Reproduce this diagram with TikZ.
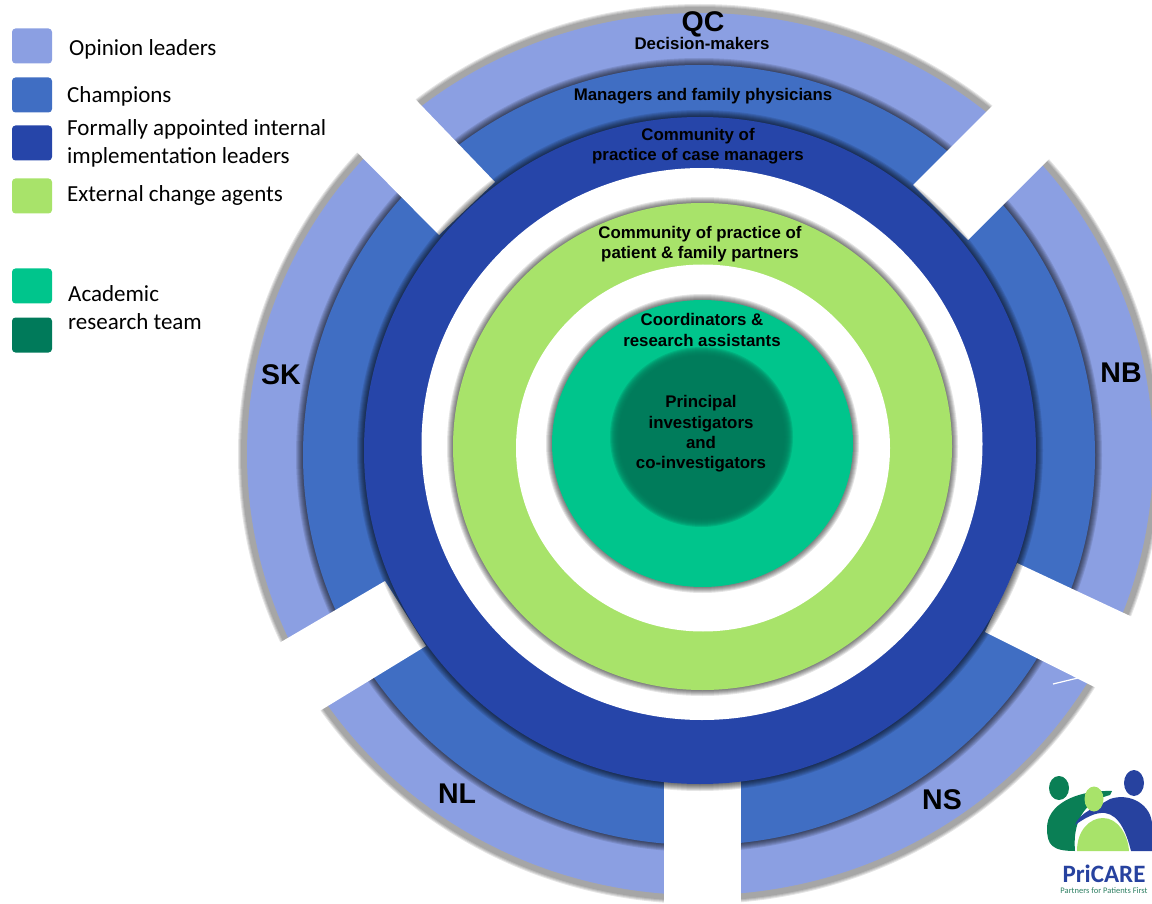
\documentclass[tikz,border=0pt]{standalone}
\usepackage{fontspec}
\setmainfont{Carlito}
\newfontfamily\arialfont{Liberation Sans}
\usepackage{xcolor}
\definecolor{opinion}{HTML}{8B9FE2}
\definecolor{champion}{HTML}{406EC3}
\definecolor{leader}{HTML}{2645A9}
\definecolor{agent}{HTML}{A8E36A}
\definecolor{academic}{HTML}{00C58C}
\definecolor{research}{HTML}{007A5A}
\definecolor{logoblue}{HTML}{27429F}
\definecolor{logogreen}{HTML}{0A7F55}
\tikzstyle{swatch} = [rectangle, rounded corners=3.5pt, minimum width=40pt, minimum height=35pt, inner sep=0pt]
\tikzstyle{legend} = [anchor=west, align=left, inner sep=0pt, font=\fontsize{23}{28}\selectfont]
\tikzstyle{ringtext} = [align=center, inner sep=0pt, font=\arialfont\bfseries\fontsize{16.85}{20.3}\selectfont]
\tikzstyle{region} = [inner sep=0pt, font=\arialfont\bfseries\fontsize{28.5}{30}\selectfont]
\tikzstyle{gap} = [fill=white]
% cx, cy, rx, ry, colour of the disc, widths of the soft rim round it
\newcommand{\softdisc}[6]{
  \foreach \d in {#6} {
    \fill[black, opacity=0.1] (#1,#2) ellipse ({#3+\d} and {#4+\d});
  }
  \fill[#5] (#1,#2) ellipse (#3 and #4);
}

\begin{document}
\begin{tikzpicture}[x=1pt, y=-1pt]
\useasboundingbox (0,0) rectangle (1152,904);
\clip (0,0) rectangle (1152,904);

% rings of the provinces
\softdisc{700}{454}{453}{441}{opinion}{9,8,7,6}
\softdisc{699}{455}{396}{390}{champion}{7,6,5,4,3,2,1}

\fill[gap] (393,76) -- (495,182) -- (439,235) -- (335,130) -- cycle;
\fill[gap] (1010,88) -- (913,185) -- (968,240) -- (1065,143) -- cycle;
\fill[gap] (1017,563) -- (1160,630) -- (1160,720) -- (985,632) -- cycle;
\fill[gap] (385,581) -- (426,646) -- (318,712) -- (270,741) -- (240,666) -- cycle;
\fill[gap] (664,770) rectangle (741,904);
\draw[white, line width=1.2pt] (1053,684) -- (1082,677);

% inner rings
\softdisc{700}{450.5}{336}{333.5}{leader}{7,6,5,4,3,2,1}
\fill[white] (702,444) ellipse (280.5 and 276);
\softdisc{702.5}{446.5}{249.5}{243.5}{agent}{6,5,4,3,2,1}
\fill[white] (703,448) ellipse (187 and 183.5);
\softdisc{702.5}{443.5}{150.5}{143.5}{academic}{6,5,4,3,2,1}
\foreach \d in {3,...,-6} {
  \fill[research, opacity=0.25] (701.5,437) ellipse ({88.5+\d} and {87+\d});
}

% labels on the rings
\node at (703,24.5) (qc) [region] {QC};
\node at (702,43.5) (deciders) [ringtext] {Decision-makers};
\node at (703,96) (managers) [ringtext] {Managers and family physicians};
\node at (698,146.5) (cases) [ringtext] {Community of\\practice of case managers};
\node at (700,244) (partners) [ringtext] {Community of practice of\\patient \& family partners};
\node at (702,330) (coords) [ringtext] {Coordinators \&\\research assistants};
\node at (701,434) (investigators) [ringtext] {Principal\\investigators\\and\\co-investigators};
\node at (281,375) (sk) [region] {SK};
\node at (1121,373) (nb) [region] {NB};
\node at (457,794) (nl) [region] {NL};
\node at (942,800) (ns) [region] {NS};

% legend
\node at (32,46) (swopinion) [swatch, fill=opinion] {};
\node at (32,95) (swchampion) [swatch, fill=champion] {};
\node at (32,143) (swleader) [swatch, fill=leader] {};
\node at (32,196) (swagent) [swatch, fill=agent] {};
\node at (32,286) (swacademic) [swatch, fill=academic] {};
\node at (32,335) (swresearch) [swatch, fill=research] {};
\node at (69,49.5) (opinionleaders) [legend] {Opinion leaders};
\node at (67,96) (champions) [legend] {Champions};
\node at (67,143) (internal) [legend] {Formally appointed internal\\implementation leaders};
\node at (67,195) (external) [legend] {External change agents};
\node at (68,308) (team) [legend] {Academic\\research team};

% logo
\fill[logogreen] (1059,788) ellipse (10 and 12);
\fill[logoblue] (1134,783) ellipse (10 and 13);
\fill[logogreen] (1075,851) .. controls (1052,851) and (1047,845) .. (1047,828) .. controls (1047,805) and (1075,790) .. (1112,791) -- (1110,795) .. controls (1090,800) and (1072,815) .. (1075,851) -- cycle;
\fill[logoblue] (1152,851) -- (1131,851) .. controls (1127,835) and (1120,815) .. (1105,813) .. controls (1095,812) and (1085,818) .. (1075,825) .. controls (1080,812) and (1095,808) .. (1110,799) .. controls (1130,792) and (1152,805) .. (1152,825) -- cycle;
\fill[agent] (1077,851) .. controls (1077,830) and (1090,818) .. (1103,818) .. controls (1118,818) and (1128,835) .. (1129,851) -- cycle;
\fill[agent] (1094,799) ellipse (9.5 and 12.5);
\node at (1104,873.5) (pricare) [inner sep=0pt, text=logoblue, font=\bfseries\fontsize{25}{25}\selectfont] {PriCARE};
\node at (1104,890.5) (partnersfirst) [inner sep=0pt, text=logogreen!70!gray, font=\fontsize{8.5}{9}\selectfont] {Partners for Patients First};
\end{tikzpicture}
\end{document}
